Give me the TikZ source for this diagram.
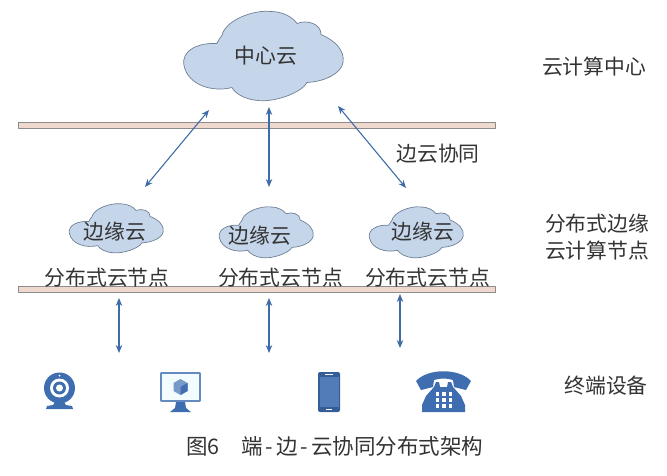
\documentclass[tikz,border=0pt]{standalone}
\usepackage{fontspec}
\usetikzlibrary{arrows.meta}
\setmainfont{Noto Sans CJK SC}
\definecolor{cloudblue}{HTML}{C5D5EA}
\definecolor{cloudedge}{HTML}{6F7F95}
\definecolor{arrowblue}{HTML}{3F6CA8}
\definecolor{barpink}{HTML}{EFD9CF}
\definecolor{iconblue}{HTML}{3E6DB0}
\tikzset{
  cloudpic/.pic={
    \draw[fill=cloudblue, draw=cloudedge, line width=0.7pt]
      (-79,10) .. controls (-82,-5) and (-65,-13) .. (-46,-12)
      .. controls (-44,-16) and (-43,-18) .. (-41,-20)
      .. controls (-38,-35) and (-10,-46) .. (8,-44)
      .. controls (20,-44) and (30,-38) .. (34,-32)
      .. controls (44,-36) and (58,-32) .. (58,-21)
      .. controls (72,-15) and (82,-5) .. (80,7)
      .. controls (78,18) and (62,26) .. (44,27)
      .. controls (38,38) and (10,47) .. (-5,45)
      .. controls (-18,44) and (-28,38) .. (-31,32)
      .. controls (-50,37) and (-75,30) .. (-79,10) -- cycle;
  },
  bartext/.style={font=\fontsize{20.8}{20.8}\selectfont, text=black!80, inner sep=0pt},
  barline/.style={draw=black!45, fill=barpink, line width=0.7pt, minimum width=477pt, minimum height=6pt, inner sep=0pt},
  linkarrow/.style={{Stealth[length=8pt,width=6.5pt]}-{Stealth[length=8pt,width=6.5pt]}, draw=arrowblue, line width=1.1pt}
}
\begin{document}
\begin{tikzpicture}[x=1pt, y=-1pt, line join=round]
	\useasboundingbox (0,0) rectangle (667,476);
	
	% Hai thanh ngang
	\node[barline] (barTop) at (256.5,125) {};
	\node[barline] (barBottom) at (256.5,289.5) {};
	
	% Cac dam may
	\pic at (263,55.5) {cloudpic};
	\pic[xscale=0.59, yscale=0.55] at (116,228) {cloudpic};
	\pic[xscale=0.59, yscale=0.57] at (266,232) {cloudpic};
	\pic[xscale=0.59, yscale=0.57] at (416,232) {cloudpic};
	\node[bartext] (cloudCenter) at (266,56) {中心云};
	\node[bartext] (cloudA) at (115,232) {边缘云};
	\node[bartext] (cloudB) at (260,236) {边缘云};
	\node[bartext] (cloudC) at (423,232) {边缘云};
	
	% Nhan nut
	\node[bartext] (nodeA) at (107,278) {分布式云节点};
	\node[bartext] (nodeB) at (280.5,278) {分布式云节点};
	\node[bartext] (nodeC) at (427.5,278) {分布式云节点};
	\node[bartext] (linkLabel) at (438,154) {边云协同};
	
	% Nhan cot phai
	\node[bartext] (labelCloud) at (594,67) {云计算中心};
	\node[bartext] (labelEdgeA) at (597,224) {分布式边缘};
	\node[bartext] (labelEdgeB) at (597,251) {云计算节点};
	\node[bartext] (labelDevice) at (606,386) {终端设备};
	\node[bartext, anchor=west, font=\fontsize{21.5}{21.5}\selectfont] (caption) at (186,446.5) {图6\hspace{1em}端\hspace{3pt}-\hspace{3pt}边\hspace{3pt}-\hspace{3pt}云协同分布式架构};
	
	% Diem dau mui ten
	\coordinate (upA) at (209,110);
	\coordinate (upB) at (269,107);
	\coordinate (upC) at (338,106);
	\coordinate (midA) at (145,187);
	\coordinate (midB) at (269,187);
	\coordinate (midC) at (406,188);
	\coordinate (lowA) at (119,298);
	\coordinate (lowB) at (269,298);
	\coordinate (lowC) at (400,294);
	\coordinate (devA) at (119,353);
	\coordinate (devB) at (269,353);
	\coordinate (devC) at (400,348);
	
	% Mui ten
	\foreach \p/\q in {upA/midA, upB/midB, upC/midC, lowA/devA, lowB/devB, lowC/devC}
		\draw[linkarrow] (\p) -- (\q);
	
	% Camera
	\fill[iconblue] (59.5,388) circle (15.5);
	\fill[white] (59.5,388) circle (9.5);
	\fill[iconblue] (59.5,388) circle (6.5);
	\fill[white] (59.5,388) circle (3.5);
	\fill[white] (59.5,375.5) circle (1);
	\fill[iconblue] (55,402) -- (64,402) -- (66,405) -- (72,406) -- (73,409) -- (46,409) -- (47,406) -- (53,405) -- cycle;
	
	% Man hinh
	\draw[draw=iconblue!80, fill=cyan!5, line width=1.8pt, rounded corners=0.5pt] (161,373) rectangle (200,401);
	\fill[iconblue] (176,402) -- (185,402) -- (186,408) -- (191,412) -- (170,412) -- (175,408) -- cycle;
	\fill[iconblue!70] (180.5,379) -- (187.5,383) -- (187.5,391) -- (180.5,395) -- (173.5,391) -- (173.5,383) -- cycle;
	\fill[iconblue] (180.5,387) -- (187.5,383) -- (187.5,391) -- (180.5,395) -- cycle;
	
	% Dien thoai di dong
	\fill[iconblue!85!black, rounded corners=2pt] (318,372) rectangle (340,412);
	\fill[iconblue!90!white] (319.5,377) rectangle (338.5,407);
	\fill[white] (325,374) rectangle (333,375);
	\fill[white] (326,409) rectangle (332,410);
	
	% Dien thoai ban
	\fill[iconblue] (416,381) .. controls (428,368) and (459,368) .. (471,381)
		-- (466,390) -- (454,387) -- (453,380) .. controls (446,378) and (441,378) .. (434,380)
		-- (433,387) -- (421,390) -- cycle;
	\fill[iconblue] (436,382) -- (439,382) -- (440,387) -- (447,387) -- (448,382) -- (451,382) -- (453,387)
		-- (461,396) -- (465,405) -- (465,412) -- (422,412) -- (422,405) -- (426,396) -- (434,387) -- cycle;
	\foreach \x in {437.5,444,450.5}
		\foreach \y in {394,400,406}
			\fill[white] (\x-1.7,\y-1.7) rectangle (\x+1.7,\y+1.7);
\end{tikzpicture}
\end{document}
